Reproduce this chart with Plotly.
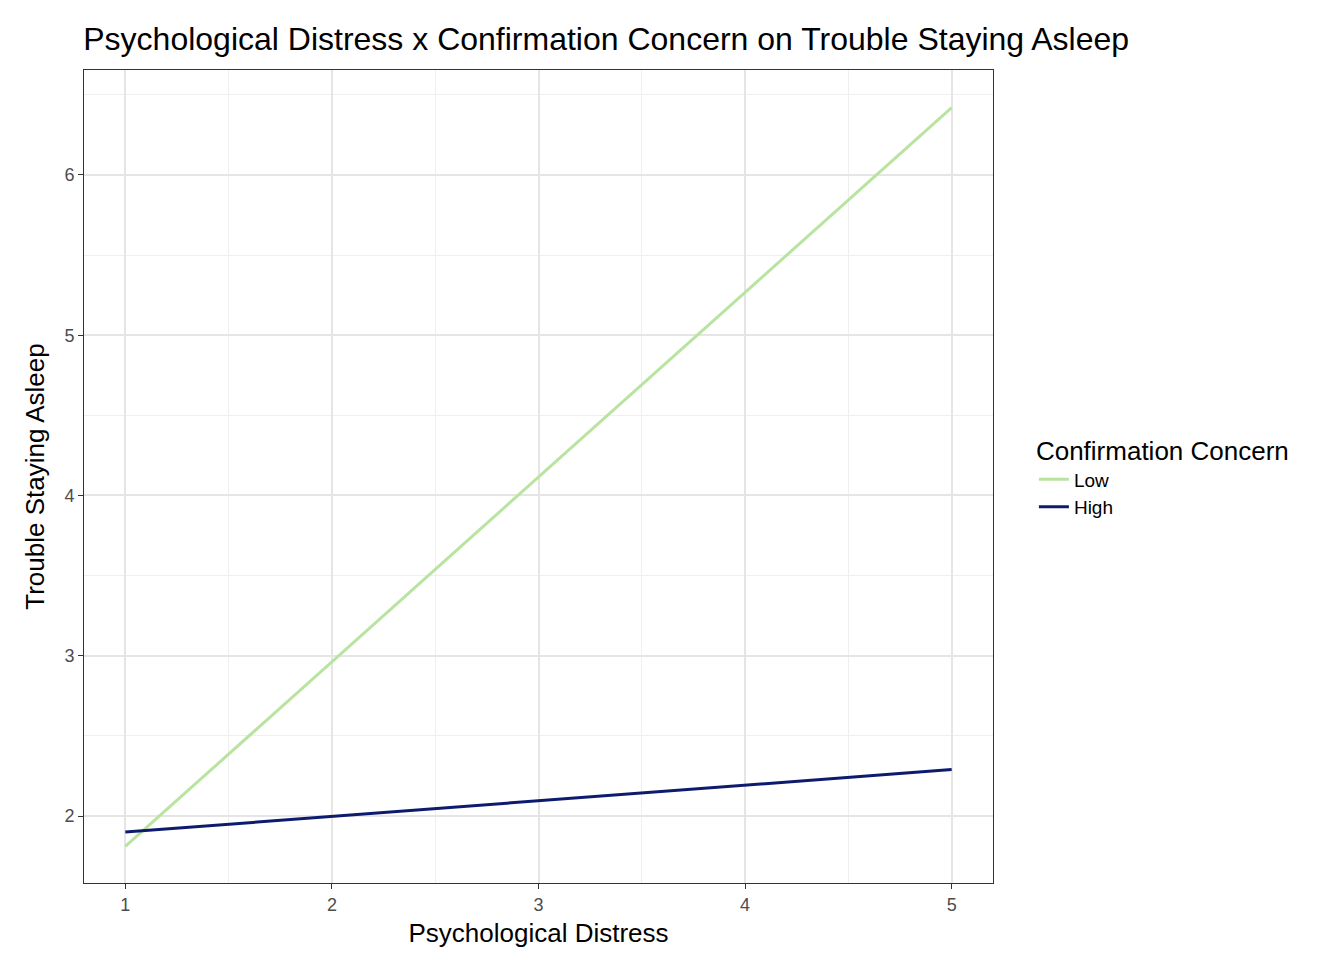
import plotly.graph_objects as go

distress = [1, 5]
low_values = [1.81, 6.42]
high_values = [1.90, 2.29]
series_names = ["Low", "High"]
series_colors = ["#b9e4a0", "#0d1b6e"]

fig = go.Figure()
for name, vals, col in zip(series_names, [low_values, high_values], series_colors):
    fig.add_trace(go.Scatter(x=distress, y=vals, mode="lines", name=name,
                             line=dict(color=col, width=3)))

axis_common = dict(showline=True, mirror=True, linecolor="#333333", linewidth=1,
                   gridcolor="#e5e5e5", gridwidth=2, ticks="outside", ticklen=5,
                   tickcolor="#333333", tickfont=dict(size=18, color="#4d4d4d"),
                   zeroline=False, automargin=False)

fig.update_layout(
    width=1344, height=960,
    paper_bgcolor="white", plot_bgcolor="white",
    font=dict(family="Liberation Sans, Arial", color="black"),
    title=dict(text="Psychological Distress x Confirmation Concern on Trouble Staying Asleep",
               x=0.056, xanchor="left", y=0.968, yanchor="middle", font=dict(size=32)),
    margin=dict(l=76, r=359, t=62, b=85, autoexpand=False),
    xaxis=dict(title=dict(text="Psychological Distress", font=dict(size=26), standoff=10),
               range=[0.8, 5.2], tickvals=[1, 2, 3, 4, 5], **axis_common),
    yaxis=dict(title=dict(text="Trouble Staying Asleep", font=dict(size=26), standoff=12),
               range=[1.582, 6.655], tickvals=[2, 3, 4, 5, 6], **axis_common),
    legend=dict(title=dict(text="Confirmation Concern", font=dict(size=26)),
                x=1.045, xanchor="left", y=0.5, yanchor="middle",
                font=dict(size=19), tracegroupgap=10),
)
fig.update_xaxes(minor=dict(tickvals=[1.5, 2.5, 3.5, 4.5], ticks="", showgrid=True,
                            gridcolor="#efefef", gridwidth=1))
fig.update_yaxes(minor=dict(tickvals=[2.5, 3.5, 4.5, 5.5, 6.5], ticks="", showgrid=True,
                            gridcolor="#efefef", gridwidth=1))

fig.write_html("out.html")
